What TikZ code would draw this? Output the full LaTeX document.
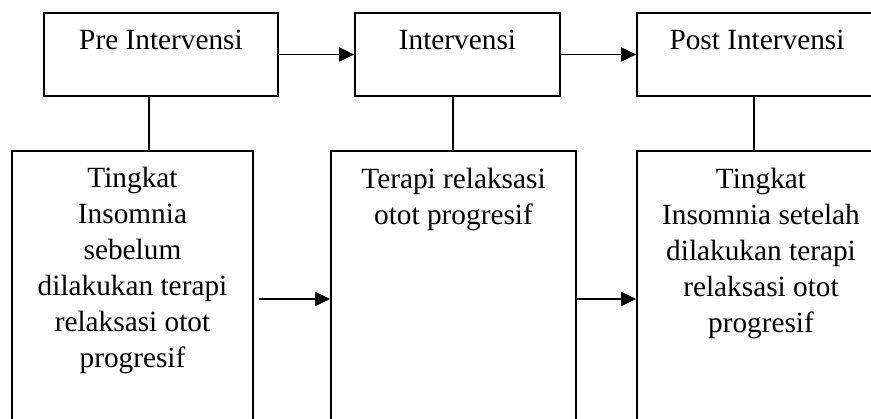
\documentclass[tikz,border=0pt]{standalone}
\usepackage{fontspec}
\setmainfont{Liberation Serif}
\usetikzlibrary{arrows.meta}
\tikzset{
  boxnode/.style={draw=black, line width=1.7pt, rectangle, inner sep=0pt},
  txt/.style={font=\fontsize{29.3}{36}\selectfont, align=center, anchor=base, inner sep=0pt},
  conn/.style={line width=1.7pt},
  arr/.style={line width=1.7pt, -{Triangle[length=15pt,width=14pt]}}
}
\begin{document}
\begin{tikzpicture}[x=1pt,y=-1pt]
\useasboundingbox (0,0) rectangle (871,419);
\clip (0,0) rectangle (871,419);
% top boxes
\node[boxnode, minimum width=234pt, minimum height=83pt] (b1) at (161,54.5) {};
\node[boxnode, minimum width=205pt, minimum height=83pt] (b2) at (457.5,54.5) {};
\node[boxnode, minimum width=240pt, minimum height=83pt] (b3) at (757,54.5) {};
% bottom boxes
\node[boxnode, minimum width=241pt, minimum height=296pt] (b4) at (132.5,299) {};
\node[boxnode, minimum width=245pt, minimum height=296pt] (b5) at (453.5,299) {};
\node[boxnode, minimum width=248pt, minimum height=296pt] (b6) at (761,299) {};
% texts (base anchor = baseline of the last line)
\node[txt] (t1) at (161,50) {Pre Intervensi};
\node[txt] (t2) at (457.5,50) {Intervensi};
\node[txt] (t3) at (757,50) {Post Intervensi};
\node[txt] (t4) at (132.5,368) {Tingkat\\Insomnia\\sebelum\\dilakukan terapi\\relaksasi otot\\progresif};
\node[txt] (t5) at (453.5,225) {Terapi relaksasi\\otot progresif};
\node[txt] (t6) at (761,333) {Tingkat\\Insomnia setelah\\dilakukan terapi\\relaksasi otot\\progresif};
% connector x positions
\coordinate (c1) at (149,0);
\coordinate (c2) at (453,0);
\coordinate (c3) at (754,0);
% vertical connectors
\draw[conn] (b1.south -| c1) -- (b4.north -| c1);
\draw[conn] (b2.south -| c2) -- (b5.north -| c2);
\draw[conn] (b3.south -| c3) -- (b6.north -| c3);
% horizontal arrows
\draw[arr] (b1.east) -- (b2.west);
\draw[arr] (b2.east) -- (b3.west);
\draw[arr] ([xshift=5pt]b4.east) -- (b5.west);
\draw[arr] (b5.east) -- (b6.west);
\end{tikzpicture}
\end{document}
